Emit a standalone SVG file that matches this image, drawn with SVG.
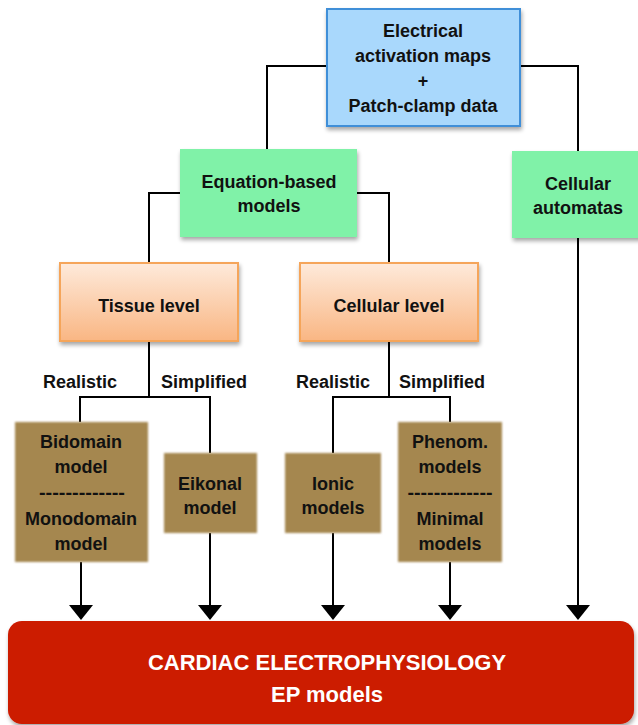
<svg xmlns="http://www.w3.org/2000/svg" width="638" height="725" viewBox="0 0 638 725">
<defs>
<filter id="sh" x="-10%" y="-10%" width="130%" height="130%">
<feGaussianBlur in="SourceAlpha" stdDeviation="2"/>
<feOffset dx="1" dy="3" result="b"/>
<feComponentTransfer><feFuncA type="linear" slope="0.35"/></feComponentTransfer>
<feMerge><feMergeNode/><feMergeNode in="SourceGraphic"/></feMerge>
</filter>
<filter id="soft" x="-10%" y="-10%" width="130%" height="130%">
<feGaussianBlur in="SourceGraphic" stdDeviation="1.2"/>
</filter>
<linearGradient id="og" x1="0" y1="0" x2="0" y2="1">
<stop offset="0" stop-color="#feeadb"/>
<stop offset="1" stop-color="#f9b683"/>
</linearGradient>
</defs>
<style>
.t{font-family:"Liberation Sans",Arial,sans-serif;font-weight:bold;font-size:18px;fill:#111;text-anchor:middle}
.w{font-family:"Liberation Sans",Arial,sans-serif;font-weight:bold;font-size:22px;fill:#fff;text-anchor:middle}
.c{fill:none;stroke:#000;stroke-width:2}
.ah{fill:#000}
.br{fill:#a5874f}
</style>
<g id="connectors">
<path class="c" d="M327,66 H267 V150"/>
<path class="c" d="M520,66 H578 V152"/>
<path class="c" d="M180,193 H149 V263"/>
<path class="c" d="M357,193 H389 V263"/>
<path class="c" d="M149,341 V397"/>
<path class="c" d="M80,422 V397 H210 V453"/>
<path class="c" d="M389,341 V397"/>
<path class="c" d="M333,453 V397 H450 V422"/>
<path class="c" d="M81,562 V607"/>
<path class="c" d="M210,533 V607"/>
<path class="c" d="M333,533 V607"/>
<path class="c" d="M450,562 V607"/>
<path class="c" d="M578,238 V607"/>
<polygon class="ah" points="69,605 93,605 81,620"/>
<polygon class="ah" points="198,605 222,605 210,620"/>
<polygon class="ah" points="321,605 345,605 333,620"/>
<polygon class="ah" points="438,605 462,605 450,620"/>
<polygon class="ah" points="566,605 590,605 578,620"/>
<text class="t" x="80" y="388">Realistic</text>
<text class="t" x="204" y="388">Simplified</text>
<text class="t" x="333" y="388">Realistic</text>
<text class="t" x="442" y="388">Simplified</text>
</g>
<g id="data">
<rect x="327" y="9" width="193" height="117" fill="#a9d8fc" stroke="#3f8fd8" stroke-width="2" filter="url(#sh)"/>
<text class="t" x="423" y="37">Electrical</text>
<text class="t" x="423" y="62">activation maps</text>
<text class="t" x="423" y="87">+</text>
<text class="t" x="423" y="112">Patch-clamp data</text>
</g>
<g id="equation">
<rect x="180" y="149" width="177" height="88" fill="#80f2a8" filter="url(#sh)"/>
<text class="t" x="269" y="188">Equation-based</text>
<text class="t" x="269" y="212">models</text>
</g>
<g id="automata">
<rect x="512" y="151" width="130" height="87" fill="#80f2a8" filter="url(#sh)"/>
<text class="t" x="578" y="190">Cellular</text>
<text class="t" x="578" y="214">automatas</text>
</g>
<g id="tissue">
<rect x="60" y="263" width="178" height="78" fill="url(#og)" stroke="#f5a55a" stroke-width="2" filter="url(#sh)"/>
<text class="t" x="149" y="312">Tissue level</text>
</g>
<g id="cellular">
<rect x="300" y="263" width="178" height="78" fill="url(#og)" stroke="#f5a55a" stroke-width="2" filter="url(#sh)"/>
<text class="t" x="389" y="312">Cellular level</text>
</g>
<g id="bidomain">
<rect class="br" x="15" y="422" width="133" height="140" filter="url(#soft)"/>
<text class="t" x="81" y="448">Bidomain</text>
<text class="t" x="81" y="473">model</text>
<text class="t" x="82" y="499" textLength="86" lengthAdjust="spacingAndGlyphs">-------------</text>
<text class="t" x="81" y="525">Monodomain</text>
<text class="t" x="81" y="550">model</text>
</g>
<g id="eikonal">
<rect class="br" x="164" y="453" width="93" height="80" filter="url(#soft)"/>
<text class="t" x="210" y="490">Eikonal</text>
<text class="t" x="210" y="514">model</text>
</g>
<g id="ionic">
<rect class="br" x="285" y="453" width="96" height="80" filter="url(#soft)"/>
<text class="t" x="333" y="490">Ionic</text>
<text class="t" x="333" y="514">models</text>
</g>
<g id="phenom">
<rect class="br" x="398" y="422" width="104" height="140" filter="url(#soft)"/>
<text class="t" x="450" y="448">Phenom.</text>
<text class="t" x="450" y="473">models</text>
<text class="t" x="450" y="499" textLength="85" lengthAdjust="spacingAndGlyphs">-------------</text>
<text class="t" x="450" y="525">Minimal</text>
<text class="t" x="450" y="550">models</text>
</g>
<g id="ep">
<rect x="8" y="621" width="626" height="103" rx="14" fill="#cc1a00" filter="url(#sh)"/>
<text class="w" x="327" y="670">CARDIAC ELECTROPHYSIOLOGY</text>
<text class="w" x="327" y="702">EP models</text>
</g>
</svg>
